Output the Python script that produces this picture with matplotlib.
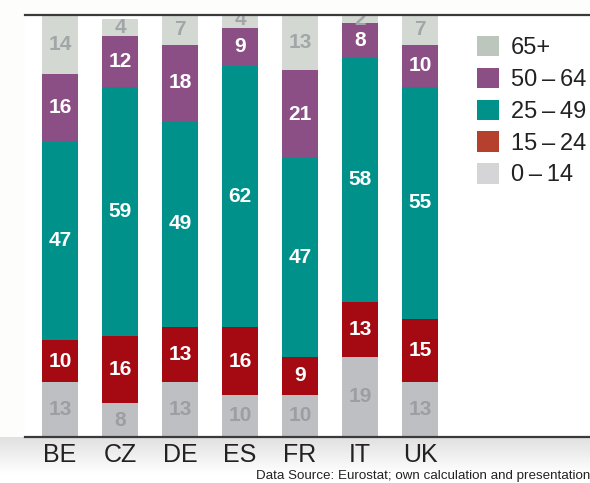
import numpy as np
import matplotlib
matplotlib.use("Agg")
import matplotlib.pyplot as plt
from matplotlib.patches import Patch
from matplotlib import font_manager as fm

countries = ["BE", "CZ", "DE", "ES", "FR", "IT", "UK"]
age_groups = ["0\u2009\u2013\u200914", "15\u2009\u2013\u200924", "25\u2009\u2013\u200949",
              "50\u2009\u2013\u200964", "65+"]
a0_14 = [13, 8, 13, 10, 10, 19, 13]
a15_24 = [10, 16, 13, 16, 9, 13, 15]
a25_49 = [47, 59, 49, 62, 47, 58, 55]
a50_64 = [16, 12, 18, 9, 21, 8, 10]
a65 = [14, 4, 7, 4, 13, 2, 7]
series = [a0_14, a15_24, a25_49, a50_64, a65]

bar_colors = ["#bebfc3", "#a50a12", "#00918a", "#8b4f85", "#d3d9d2"]
legend_colors = ["#d5d5d7", "#b5402e", "#00918a", "#8b4f85", "#bcc6bc"]
label_colors = ["#9c9ea2", "white", "white", "white", "#a2a6a8"]

avail = {f.name for f in fm.fontManager.ttflist}
narrow = "Liberation Sans Narrow" if "Liberation Sans Narrow" in avail else "Liberation Sans"
plt.rcParams["font.family"] = [narrow, "DejaVu Sans"]

W, H = 590, 483
fig = plt.figure(figsize=(W / 100, H / 100), dpi=100)
fig.patch.set_facecolor("#fdfdfc")

# subtle shading below the axis
bg = fig.add_axes([0, 0, 1, 1], zorder=-5)
grad = np.linspace(0, 1, 100)[:, None]
img = np.ones((100, 2, 3))
shade = np.clip(1 - 0.12 * (1 - np.clip(grad / 0.8, 0, 1)), 0, 1)
img[:, :, :] = shade[:, :, None]
bg.imshow(img, extent=[0, 1, 0, 46 / H], aspect="auto", origin="upper",
          transform=bg.transAxes)
bg.set_xlim(0, 1); bg.set_ylim(0, 1)
bg.axis("off")

ax = fig.add_axes([25 / W, (H - 437) / H, 565 / W, (437 - 15) / H])
ax.set_facecolor("white")
x = np.arange(len(countries))
bottom = np.zeros(len(countries))
for vals, col, lcol in zip(series, bar_colors, label_colors):
    vals = np.array(vals, dtype=float)
    ax.bar(x, vals, bottom=bottom, width=0.6, color=col, zorder=2)
    for xi, b, v in zip(x, bottom, vals):
        ax.text(xi, b + v / 2, f"{int(v)}", ha="center", va="center",
                color=lcol, fontsize=15, fontweight="bold", clip_on=True, zorder=3)
    bottom += vals

ax.set_xlim(-35 / 60, (565 - 35) / 60)
ax.set_ylim(0, 100)
ax.set_yticks([])
ax.set_xticks(x)
ax.set_xticklabels(countries, fontsize=18, color="#222222")
ax.tick_params(axis="x", length=0, pad=4)
for s in ["left", "right"]:
    ax.spines[s].set_visible(False)
for s in ["top", "bottom"]:
    ax.spines[s].set_color("#3a3a3a")
    ax.spines[s].set_linewidth(1.6)
    ax.spines[s].set_zorder(5)

handles = [Patch(facecolor=c, edgecolor="none") for c in legend_colors]
leg = ax.legend(handles[::-1], age_groups[::-1], loc="upper left",
                bbox_to_anchor=((477 - 25) / 565, 1 - (36 - 15) / 422),
                frameon=False, fontsize=17, handlelength=0.95, handleheight=0.95,
                handletextpad=0.5, labelspacing=0.36, borderaxespad=0, borderpad=0)
for t in leg.get_texts():
    t.set_color("#222222")

fig.text(590 / W, 1 - 476 / H, "Data Source: Eurostat; own calculation and presentation",
         ha="right", va="center", fontsize=9.6, color="#222222",
         family=["Liberation Sans", "DejaVu Sans"])

fig.savefig("out.png", dpi=100, facecolor=fig.get_facecolor())
